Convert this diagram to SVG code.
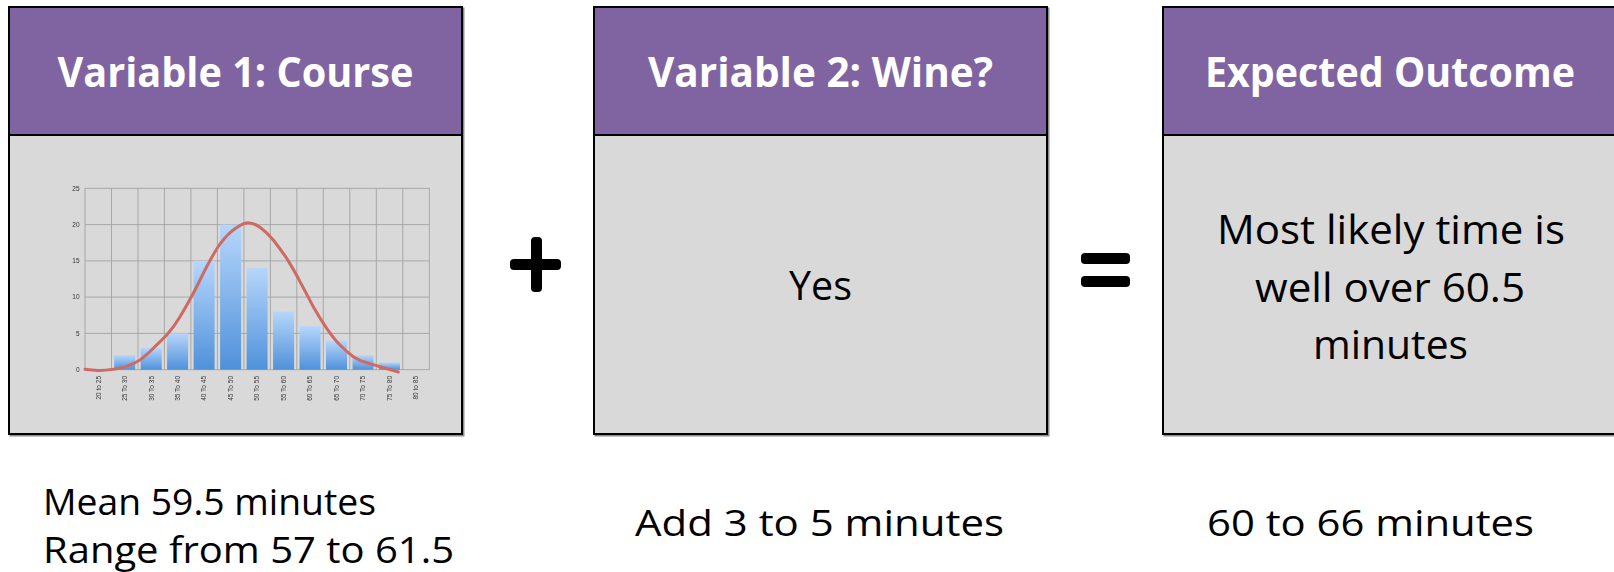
<svg xmlns="http://www.w3.org/2000/svg" width="1614" height="572" viewBox="0 0 1614 572">
  <defs>
    <style>
      .hdr { fill: #8064A2; stroke: #000; stroke-width: 2; }
      .body { fill: #D9D9D9; stroke: #000; stroke-width: 2; }
      .shadow { fill: none; stroke: #8c8c8c; stroke-width: 2; }
      .htxt { font-family: "Open Sans", "Noto Sans", sans-serif; font-weight: bold; font-size: 41px; fill: #fff; text-anchor: middle; }
      .btxt { font-family: "Open Sans", "Noto Sans", sans-serif; font-size: 41px; fill: #000; text-anchor: middle; }
      .ltxt { font-family: "Open Sans", "Noto Sans", sans-serif; font-size: 37px; fill: #000; }
      .grid { stroke: #a3a3a3; stroke-width: 0.9; fill: none; }
      .ax { font-family: "Liberation Sans", sans-serif; font-size: 6.5px; fill: #333; }
      .bar { fill: url(#barFill); }
      .sign { fill: #000; }
    </style>
    <linearGradient id="barFill" x1="0" y1="0" x2="0" y2="1">
      <stop offset="0" stop-color="#b6d6fb"/>
      <stop offset="1" stop-color="#4f91da"/>
    </linearGradient>
    <filter id="soft" x="-5%" y="-5%" width="110%" height="110%">
      <feGaussianBlur stdDeviation="0.55"/>
    </filter>
  </defs>

  <!-- Box 1: course -->
  <g id="variable-1">
    <rect class="shadow" x="10.5" y="8.5" width="453" height="427"/>
    <rect class="hdr" x="9" y="7" width="453" height="128"/>
    <rect class="body" x="9" y="135" width="453" height="299"/>
    <text class="htxt" x="235.5" y="87" textLength="356" lengthAdjust="spacingAndGlyphs">Variable 1: Course</text>

    <!-- histogram with fitted curve -->
    <g id="histogram" filter="url(#soft)">
      <g class="grid">
        <rect x="85" y="188.3" width="344.3" height="181.4"/>
        <path d="M85,224.6H429.3M85,260.9H429.3M85,297.1H429.3M85,333.4H429.3"/>
        <path d="M111.5,188.3V369.7M138,188.3V369.7M164.4,188.3V369.7M190.9,188.3V369.7M217.4,188.3V369.7M243.9,188.3V369.7M270.4,188.3V369.7M296.8,188.3V369.7M323.3,188.3V369.7M349.8,188.3V369.7M376.3,188.3V369.7M402.8,188.3V369.7"/>
      </g>
      <g class="bar">
        <rect x="114.2" y="355.2" width="21" height="14.5"/>
        <rect x="140.7" y="347.9" width="21" height="21.8"/>
        <rect x="167.1" y="333.4" width="21" height="36.3"/>
        <rect x="193.6" y="260.9" width="21" height="108.8"/>
        <rect x="220.1" y="224.6" width="21" height="145.1"/>
        <rect x="246.6" y="268.1" width="21" height="101.6"/>
        <rect x="273.1" y="311.7" width="21" height="58"/>
        <rect x="299.5" y="326.2" width="21" height="43.5"/>
        <rect x="326" y="340.7" width="21" height="29"/>
        <rect x="352.5" y="355.2" width="21" height="14.5"/>
        <rect x="379" y="362.4" width="21" height="7.3"/>
      </g>
      <path d="M85,369.3 C92,370.3 96,370.6 100,370.4 C106,370.3 110,369.6 115,369 C121,368 126,366.8 130,365 C134,363.5 137,361.8 140,360 C145,356.5 149,352.6 153.3,348.3 C158,343.6 162,340 166.7,335 C172,329 176,323.5 180,316.7 C185,308.5 189,301.5 193.3,293.3 C198,284.5 202,275.5 206.7,266.7 C211,258.5 215,251 220,244 C225,237.5 229,233 233.3,230 C238,226.5 243,222.7 247.7,222.7 C252,222.7 256,224.5 260,227.3 C265,231 269,235 273.3,240 C278,246 282,251.5 286.7,258.3 C291,265.5 296,273.5 300,281.7 C305,290.5 309,299 313.3,306.7 C318,315 322,321.5 326.7,328.3 C331,334.5 335,340 340,345 C344.5,349.5 349,353.5 353.3,356.7 C358,359.8 362,361.5 366.7,362.7 C371,364 375,365.3 380,366.7 C386,368.3 392,370 398.3,372" fill="none" stroke="#cf6a63" stroke-width="3" stroke-linecap="round" stroke-linejoin="round"/>
      <g class="ax" text-anchor="end">
        <text x="79.5" y="190.5">25</text>
        <text x="79.5" y="226.8">20</text>
        <text x="79.5" y="263.1">15</text>
        <text x="79.5" y="299.3">10</text>
        <text x="79.5" y="335.6">5</text>
        <text x="79.5" y="371.9">0</text>
      </g>
      <g class="ax" text-anchor="end">
        <text transform="translate(100.5,376) rotate(-90)">20 to 25</text>
        <text transform="translate(127,376) rotate(-90)">25 To 30</text>
        <text transform="translate(153.5,376) rotate(-90)">30 To 35</text>
        <text transform="translate(179.9,376) rotate(-90)">35 To 40</text>
        <text transform="translate(206.4,376) rotate(-90)">40 To 45</text>
        <text transform="translate(232.9,376) rotate(-90)">45 To 50</text>
        <text transform="translate(259.4,376) rotate(-90)">50 To 55</text>
        <text transform="translate(285.9,376) rotate(-90)">55 To 60</text>
        <text transform="translate(312.3,376) rotate(-90)">60 To 65</text>
        <text transform="translate(338.8,376) rotate(-90)">65 To 70</text>
        <text transform="translate(365.3,376) rotate(-90)">70 To 75</text>
        <text transform="translate(391.8,376) rotate(-90)">75 To 80</text>
        <text transform="translate(418.3,376) rotate(-90)">80 to 85</text>
      </g>
    </g>
  </g>

  <!-- Box 2: wine -->
  <g id="variable-2">
    <rect class="shadow" x="595.5" y="8.5" width="453" height="427"/>
    <rect class="hdr" x="594" y="7" width="453" height="128"/>
    <rect class="body" x="594" y="135" width="453" height="299"/>
    <text class="htxt" x="820.5" y="87" textLength="345" lengthAdjust="spacingAndGlyphs">Variable 2: Wine?</text>
    <text class="btxt" x="820.5" y="300" textLength="63" lengthAdjust="spacingAndGlyphs">Yes</text>
  </g>

  <!-- Box 3: outcome -->
  <g id="expected-outcome">
    <rect class="shadow" x="1164.5" y="8.5" width="453" height="427"/>
    <rect class="hdr" x="1163" y="7" width="453" height="128"/>
    <rect class="body" x="1163" y="135" width="453" height="299"/>
    <text class="htxt" x="1390" y="87" textLength="370" lengthAdjust="spacingAndGlyphs">Expected Outcome</text>
    <text class="btxt" x="1391" y="244" textLength="348" lengthAdjust="spacingAndGlyphs">Most likely time is</text>
    <text class="btxt" x="1390" y="302" textLength="270" lengthAdjust="spacingAndGlyphs">well over 60.5</text>
    <text class="btxt" x="1390.5" y="359" textLength="155" lengthAdjust="spacingAndGlyphs">minutes</text>
  </g>

  <!-- operators between the boxes -->
  <g id="connectors">
    <g id="plus">
      <rect class="sign" x="510" y="259" width="51" height="11" rx="4"/>
      <rect class="sign" x="531" y="237" width="11" height="55" rx="4"/>
    </g>
    <g id="equals">
      <rect class="sign" x="1081" y="253" width="49" height="11" rx="4"/>
      <rect class="sign" x="1081" y="276" width="49" height="11" rx="4"/>
    </g>
  </g>

  <!-- captions under the boxes -->
  <g id="caption-1">
    <text class="ltxt" x="43" y="515" textLength="333" lengthAdjust="spacingAndGlyphs">Mean 59.5 minutes</text>
    <text class="ltxt" x="43" y="563" textLength="411" lengthAdjust="spacingAndGlyphs">Range from 57 to 61.5</text>
  </g>
  <g id="caption-2">
    <text class="ltxt" x="635" y="536" font-size="41" textLength="369" lengthAdjust="spacingAndGlyphs">Add 3 to 5 minutes</text>
  </g>
  <g id="caption-3">
    <text class="ltxt" x="1207" y="536" font-size="41" textLength="327" lengthAdjust="spacingAndGlyphs">60 to 66 minutes</text>
  </g>
</svg>
